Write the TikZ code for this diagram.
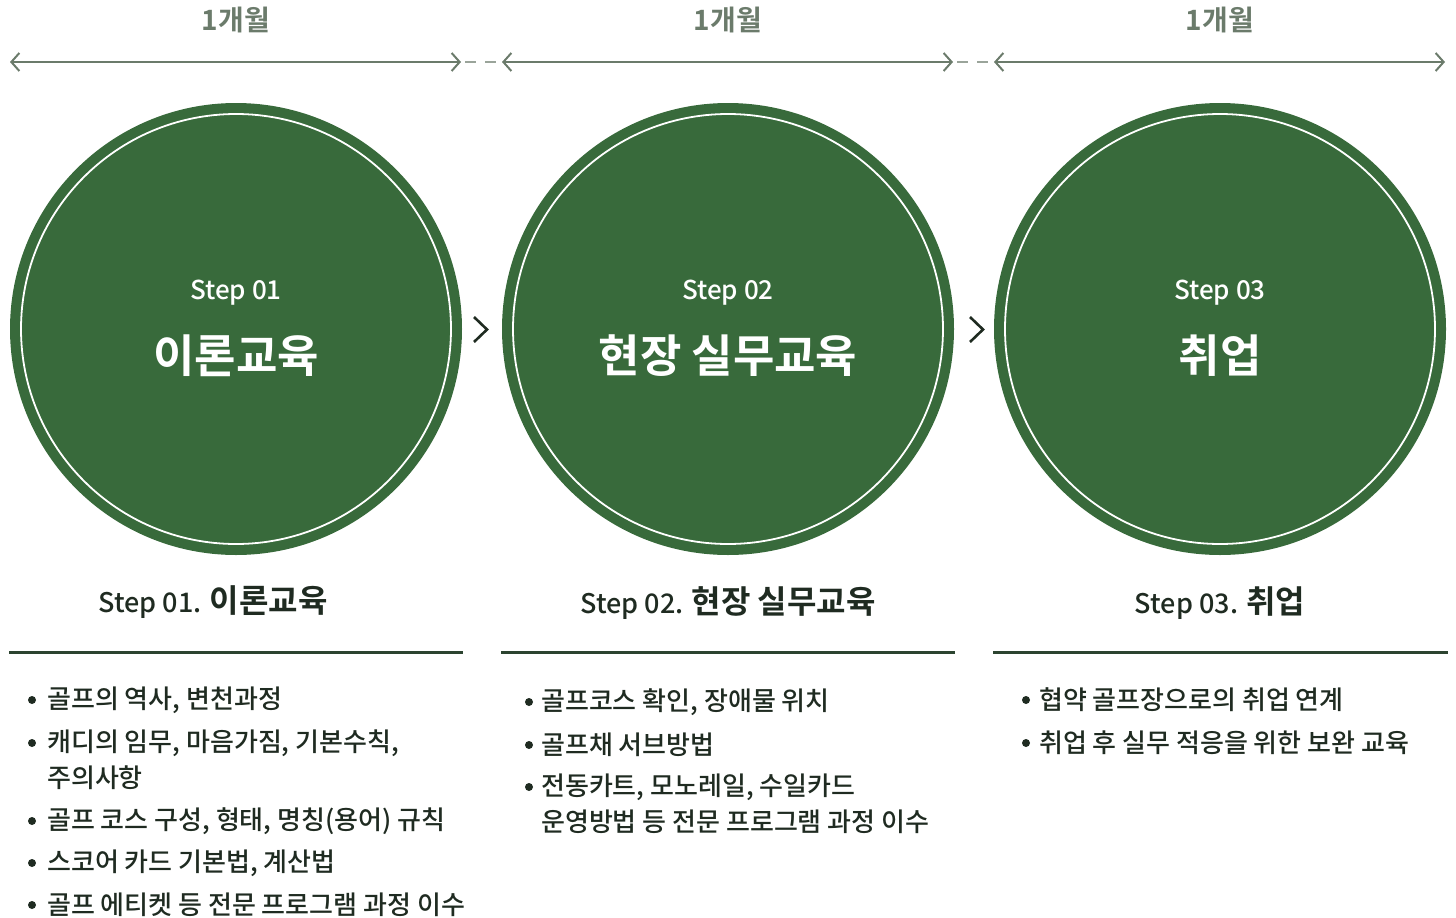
\documentclass[tikz,border=0pt]{standalone}
\usepackage{fontspec}
\setmainfont{Noto Sans CJK KR}[UprightFont={Noto Sans CJK KR Medium},BoldFont={Noto Sans CJK KR Bold}]
\usetikzlibrary{positioning,arrows.meta}

\definecolor{stepgreen}{HTML}{386A3B}
\definecolor{spangray}{HTML}{6B7B6B}
\definecolor{dashgray}{HTML}{9AA49A}
\definecolor{inkdark}{HTML}{1F2B21}
\definecolor{rulegreen}{HTML}{2C4430}

\tikzset{
  stepdisc/.style={circle,fill=stepgreen,minimum size=452pt,inner sep=0pt},
  discstep/.style={text=white,font=\fontsize{26}{30}\selectfont},
  disctitle/.style={text=white,font=\bfseries\fontsize{45}{50}\selectfont},
  spanlabel/.style={text=spangray,font=\bfseries\fontsize{28}{32}\selectfont},
  spanarrow/.style={spangray,line width=2pt,{Straight Barb[length=8pt,width=18pt]}-{Straight Barb[length=8pt,width=18pt]}},
  spangap/.style={dashgray,line width=1.5pt,dash pattern=on 11pt off 9pt},
  steptitle/.style={text=inkdark,font=\fontsize{27}{30}\selectfont},
  itemtext/.style={text=inkdark,anchor=west,inner sep=0pt,font=\fontsize{26}{30}\selectfont},
  bulletdot/.style={circle,fill=inkdark,minimum size=8pt,inner sep=0pt},
}

\begin{document}
\begin{tikzpicture}[x=1pt,y=-1pt]
\useasboundingbox (0,0) rectangle (1456,918);
% ---- time spans ----
\foreach \cx [count=\i] in {236,728,1220} {
  \node[spanlabel] (m\i) at (\cx,20) {1개월};
  \coordinate (sl\i) at (\cx-226,62);
  \coordinate (sr\i) at (\cx+225,62);
  \draw[spanarrow] (sl\i) -- (sr\i);
}
\draw[spangap] (sr1) ++(4,0) -- (sl2);
\draw[spangap] (sr2) ++(4,0) -- (sl3);
% ---- circles ----
\node[stepdisc] (c1) at (236,329) {};
\node[stepdisc] (c2) at (728,329) {};
\node[stepdisc] (c3) at (1220,329) {};
\foreach \i in {1,2,3}
  \draw[white,line width=1.8pt] (c\i.center) circle (215);
\node[discstep] (s1) at (236,293) {Step 01};
\node[disctitle] (t1) at (236,356) {이론교육};
\node[discstep] (s2) at (728,293) {Step 02};
\node[disctitle] (t2) at (728,356) {현장 실무교육};
\node[discstep] (s3) at (1220,293) {Step 03};
\node[disctitle] (t3) at (1220,356) {취업};
% chevrons
\draw[inkdark,line width=2.6pt] (474,317) -- (487,329.5) -- (474,342);
\draw[inkdark,line width=2.6pt] (970,317) -- (983,329.5) -- (970,342);
% ---- titles and rules ----
\node[steptitle] (h1) at (213,602) {Step 01. {\bfseries\fontsize{32}{36}\selectfont 이론교육}};
\node[steptitle] (h2) at (728,603) {Step 02. {\bfseries\fontsize{32}{36}\selectfont 현장 실무교육}};
\node[steptitle] (h3) at (1220,603) {Step 03. {\bfseries\fontsize{32}{36}\selectfont 취업}};
\draw[rulegreen,line width=3pt] (9,652) -- (463,652);
\draw[rulegreen,line width=3pt] (501,652) -- (955,652);
\draw[rulegreen,line width=3pt] (993,652) -- (1448,652);
% ---- step 01 items ----
\foreach \y/\t [count=\i] in {700/{골프의 역사, 변천과정},743/{캐디의 임무, 마음가짐, 기본수칙,},778/{주의사항},821/{골프 코스 구성, 형태, 명칭(용어) 규칙},863/{스코어 카드 기본법, 계산법},905/{골프 에티켓 등 전문 프로그램 과정 이수}}
  \node[itemtext] (ia\i) at (47,\y) {\t};
\foreach \y [count=\i] in {700,743,821,863,905}
  \node[bulletdot] (ba\i) at (32,\y) {};
% ---- step 02 items ----
\foreach \y/\t [count=\i] in {702/{골프코스 확인, 장애물 위치},745/{골프채 서브방법},787/{전동카트, 모노레일, 수일카드},822/{운영방법 등 전문 프로그램 과정 이수}}
  \node[itemtext] (ib\i) at (541,\y) {\t};
\foreach \y [count=\i] in {702,745,787}
  \node[bulletdot] (bb\i) at (529,\y) {};
% ---- step 03 items ----
\foreach \y/\t [count=\i] in {700/{협약 골프장으로의 취업 연계},743/{취업 후 실무 적응을 위한 보완 교육}}
  \node[itemtext] (ic\i) at (1039,\y) {\t};
\foreach \y [count=\i] in {700,743}
  \node[bulletdot] (bc\i) at (1026,\y) {};
\end{tikzpicture}
\end{document}
